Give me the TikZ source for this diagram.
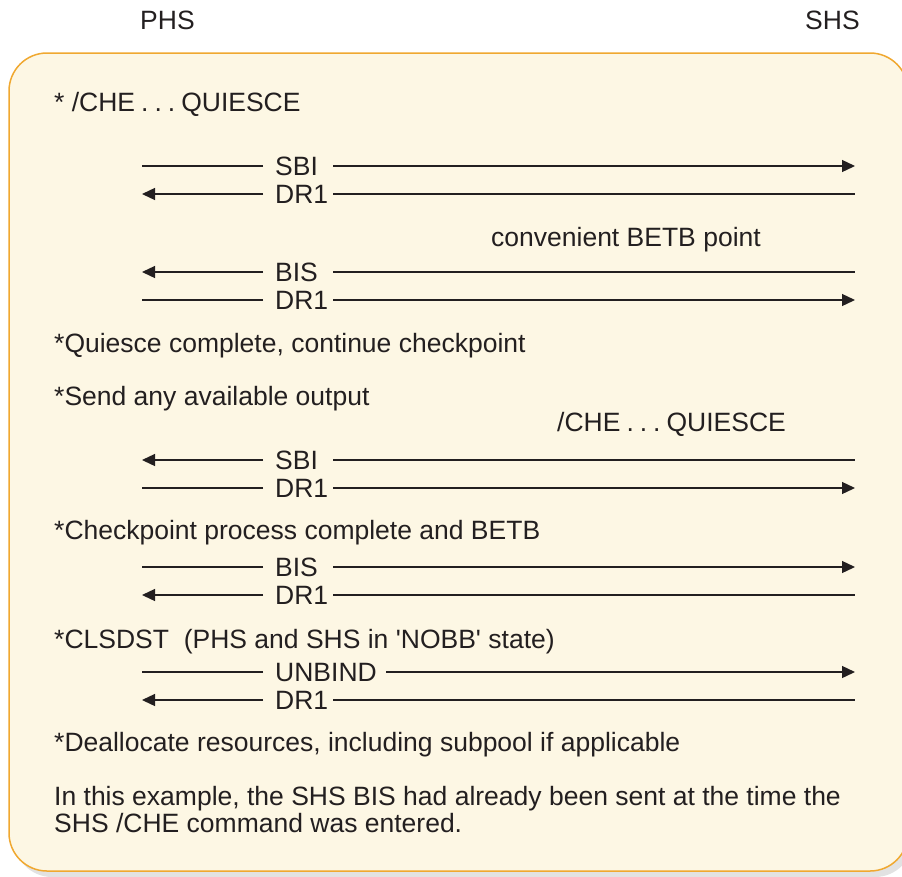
\documentclass[tikz,border=0pt]{standalone}
\usepackage{fontspec}
\setmainfont{Liberation Sans}
\usetikzlibrary{arrows.meta}
\definecolor{boxfill}{RGB}{253,247,228}
\definecolor{boxedge}{RGB}{240,168,48}
\definecolor{shadowgray}{RGB}{226,226,226}
\definecolor{ink}{RGB}{35,31,32}
\newcommand{\dotsep}{\hspace{6pt}.\hspace{6pt}.\hspace{6pt}.\hspace{6pt}}
\tikzset{
  txt/.style={anchor=base west, inner sep=0pt, font=\fontsize{26.5}{30}\selectfont, text=ink},
  msg/.style={draw=ink, line width=1.3pt},
  msgarrow/.style={msg, -{Triangle[length=13pt,width=12pt]}},
}
\begin{document}
\begin{tikzpicture}[x=1pt,y=-1pt]
\useasboundingbox (0,0) rectangle (902,876);
% shadow and box
\fill[shadowgray, rounded corners=38pt] (14,58) rectangle (913,877);
\draw[fill=boxfill, draw=boxedge, line width=1.5pt, rounded corners=38pt] (9,53) rectangle (908,871);
% headers
\node[txt] (phs) at (140,29) {PHS};
\node[txt] (shs) at (805,29) {SHS};
% texts
\node[txt] (t1) at (54,111) {* /CHE\dotsep QUIESCE};
\node[txt] (t2) at (491,246) {convenient BETB point};
\node[txt] (t3) at (54,352) {*Quiesce complete, continue checkpoint};
\node[txt] (t4) at (54,405) {*Send any available output};
\node[txt] (t5) at (557,431) {/CHE\dotsep QUIESCE};
\node[txt] (t6) at (54,539) {*Checkpoint process complete and BETB};
\node[txt] (t7) at (54,648) {*CLSDST\ \ (PHS and SHS in \textquotesingle NOBB\textquotesingle\ state)};
\node[txt] (t8) at (54,751) {*Deallocate resources, including subpool if applicable};
\node[txt] (t9) at (54,805) {In this example, the SHS BIS had already been sent at the time the};
\node[txt] (t10) at (54,832) {SHS /CHE command was entered.};
% message rows: name, y, label, right start x, direction
\foreach \n/\y/\lab/\rx/\dir in {
  a/166/SBI/333/r,
  b/194/DR1/333/l,
  c/272/BIS/333/l,
  d/300/DR1/333/r,
  e/460/SBI/333/l,
  f/488/DR1/333/r,
  g/567/BIS/333/r,
  h/595/DR1/333/l,
  i/672/UNBIND/386/r,
  j/700/DR1/333/l}{
  \coordinate (L\n) at (142,\y);
  \coordinate (LE\n) at (263,\y);
  \coordinate (RS\n) at (\rx,\y);
  \coordinate (R\n) at (855,\y);
  \node[txt] (M\n) at (275,\y+9.5) {\lab};
  \if r\dir
    \draw[msg] (LE\n) -- (L\n);
    \draw[msgarrow] (RS\n) -- (R\n);
  \else
    \draw[msgarrow] (LE\n) -- (L\n);
    \draw[msg] (RS\n) -- (R\n);
  \fi
}
\end{tikzpicture}
\end{document}
